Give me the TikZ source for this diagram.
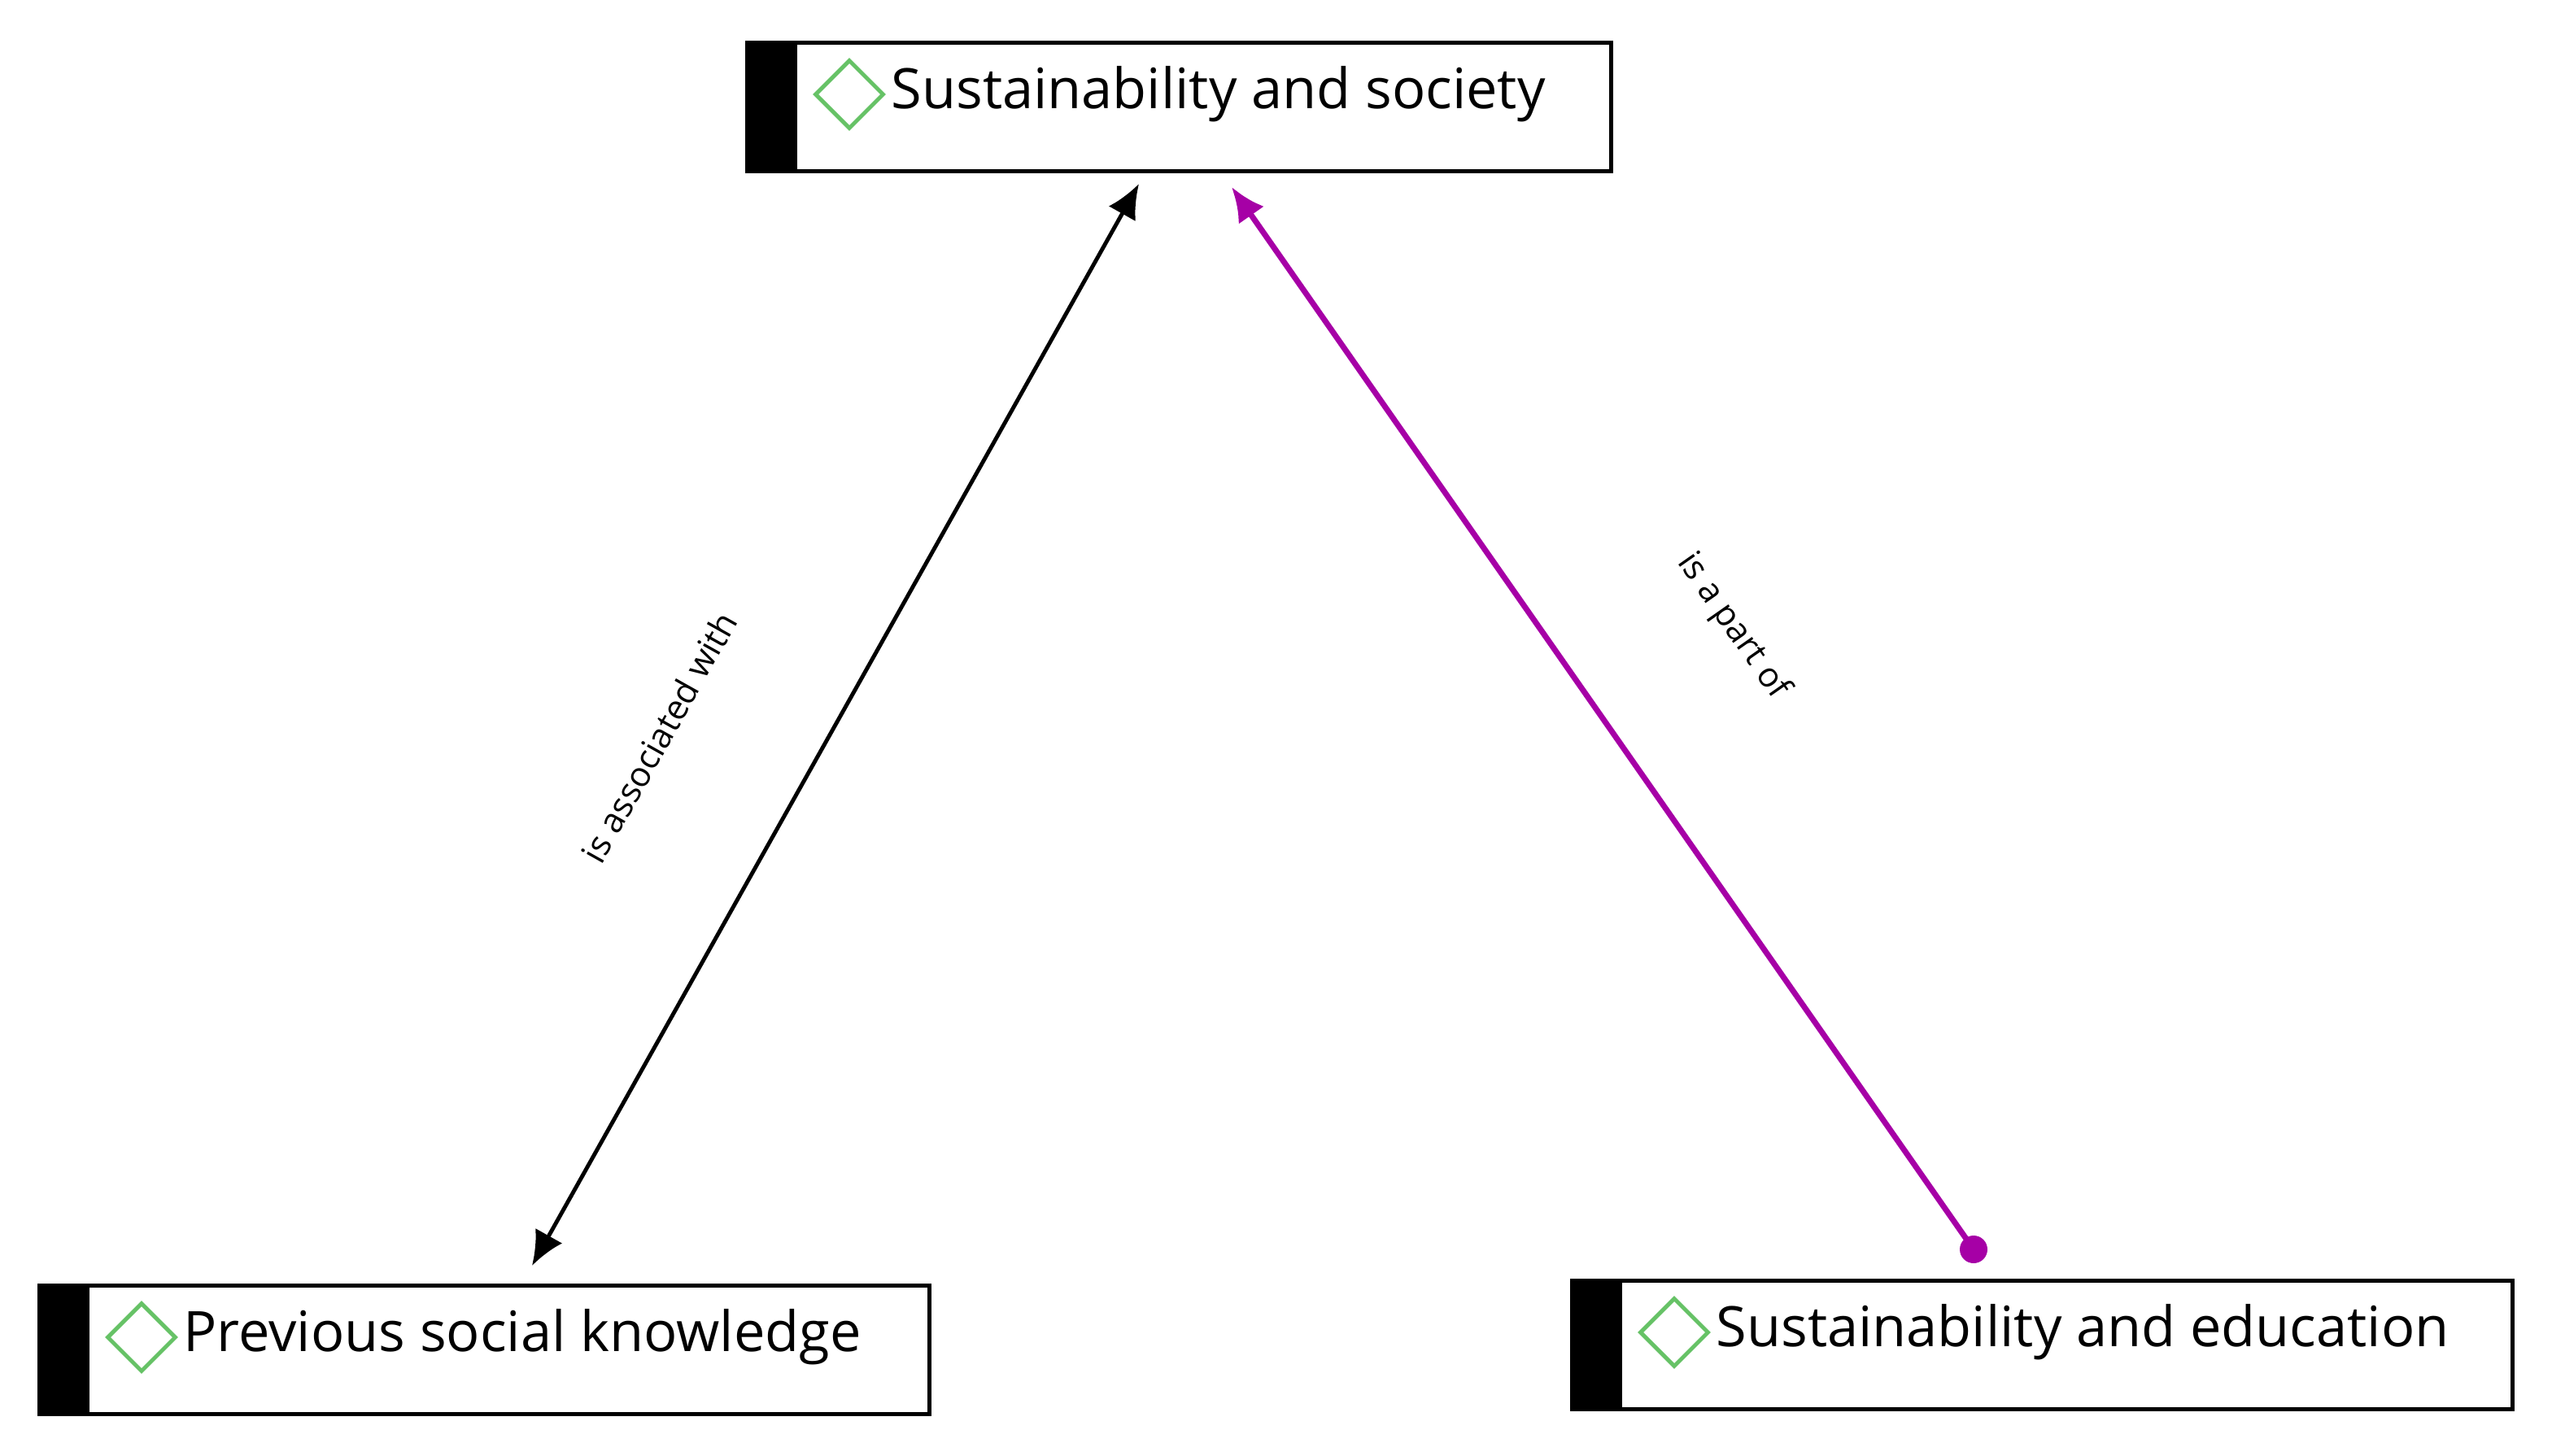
\documentclass[tikz,border=0pt]{standalone}
\usepackage{fontspec}
\setmainfont{Open Sans}
\usetikzlibrary{arrows.meta,shapes.geometric,positioning}
\tikzset{
    concept/.style={rectangle, draw=black, line width=1.4pt, fill=white, anchor=north west},
    bar/.style={fill=black},
    mark icon/.style={diamond, draw=green!60!black!60, line width=1.4pt, minimum width=0.85cm, minimum height=0.85cm, inner sep=0pt},
    title/.style={font=\fontsize{19.5}{22}\selectfont, inner sep=0pt, anchor=west},
    rel/.style={font=\fontsize{12}{14}\selectfont, inner sep=1pt}
}
\begin{document}
\begin{tikzpicture}[x=1cm,y=-1cm]
  \useasboundingbox (0,0) rectangle (31.37,17.90);
  % concept boxes
  \node [concept, minimum width=10.62cm, minimum height=1.58cm] (soc) at (9.16,0.50) {};
  \node [concept, minimum width=10.94cm, minimum height=1.58cm] (prev) at (0.46,15.78) {};
  \node [concept, minimum width=11.56cm, minimum height=1.58cm] (edu) at (19.30,15.72) {};
  \foreach \n in {soc,prev,edu}
    \fill [bar] (\n.north west) rectangle ([xshift=0.64cm]\n.south west);
  % icons and titles
  \node [mark icon] (socicon) at ([xshift=1.28cm,yshift=-0.66cm]soc.north west) {};
  \node [title, right=0.06cm of socicon] (soctext) {Sustainability and society};
  \node [mark icon] (previcon) at ([xshift=1.28cm,yshift=-0.66cm]prev.north west) {};
  \node [title, right=0.06cm of previcon] (prevtext) {Previous social knowledge};
  \node [mark icon] (eduicon) at ([xshift=1.28cm,yshift=-0.66cm]edu.north west) {};
  \node [title, right=0.06cm of eduicon] (edutext) {Sustainability and education};
  % connectors
  \coordinate (a1) at (6.54,15.56);
  \coordinate (a2) at (14.00,2.26);
  \coordinate (b1) at (24.26,15.36);
  \coordinate (b2) at (15.14,2.30);
  \draw [line width=1.4pt, {Latex[length=0.42cm,width=0.38cm]}-{Latex[length=0.42cm,width=0.38cm]}] (a1) -- (a2);
  \draw [line width=2pt, color=violet!70!magenta, -{Latex[length=0.42cm,width=0.38cm]}] (b1) -- (b2);
  \fill [violet!70!magenta] (b1) circle (0.17);
  % labels
  \node [rel, rotate=60.7] (assoc) at (8.10,9.06) {is associated with};
  \node [rel, rotate=-55] (part) at (21.30,7.70) {is a part of};
\end{tikzpicture}
\end{document}
